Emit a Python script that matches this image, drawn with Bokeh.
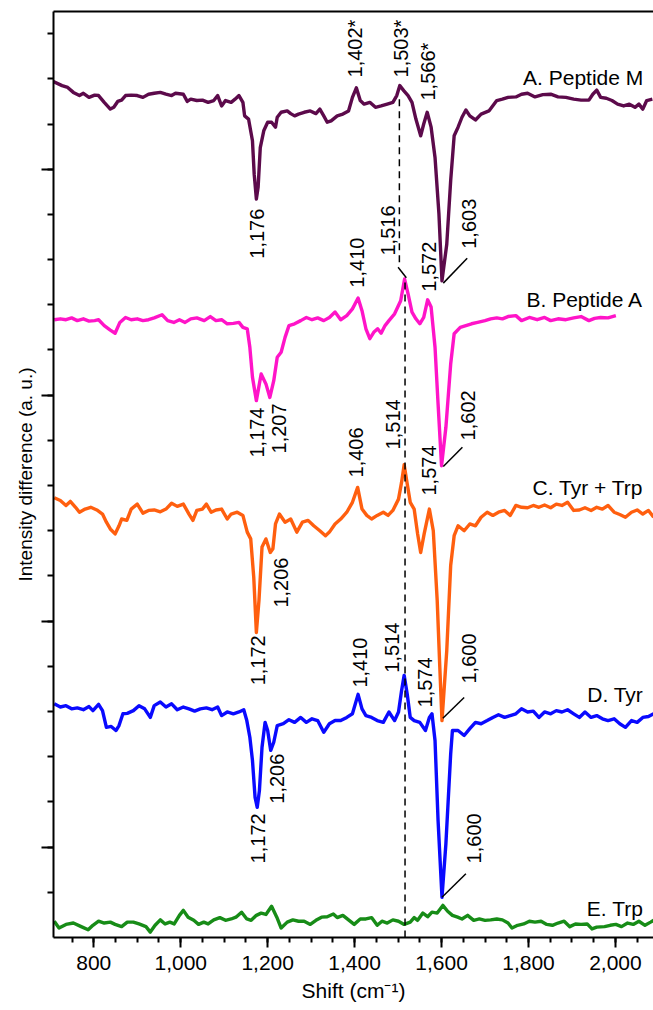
from math import pi
from bokeh.plotting import figure
from bokeh.models import Range1d, FixedTicker, LinearAxis, NumeralTickFormatter, ColumnDataSource
from bokeh.core.properties import value
from bokeh.embed import file_html
from bokeh.resources import INLINE

FONT = "Liberation Sans"

# ---------------- data (Raman shift cm-1, offset intensity a.u.) ----------------
a_pts = [(707,18.94),(727,18.85),(740,18.81),(753,18.70),(767,18.63),(776,18.68),(789,18.59),(802,18.64),
         (811,18.63),(824,18.48),(838,18.33),(846,18.37),(855,18.50),(864,18.53),(873,18.63),(886,18.64),
         (900,18.63),(913,18.59),(926,18.66),(939,18.68),(953,18.70),(966,18.66),(979,18.63),(988,18.68),
         (1006,18.66),(1015,18.50),(1023,18.55),(1037,18.52),(1050,18.53),(1063,18.48),(1076,18.52),(1085,18.63),
         (1094,18.40),(1103,18.52),(1116,18.48),(1125,18.55),(1134,18.63),(1143,18.48),(1147,18.18),(1156,18.11),
         (1165,17.63),(1169,16.89),(1174,16.34),(1178,16.60),(1183,17.48),(1191,17.85),(1200,18.04),(1209,18.04),
         (1218,17.93),(1222,18.15),(1231,18.26),(1245,18.29),(1253,18.23),(1262,18.18),(1271,18.22),(1284,18.26),
         (1298,18.29),(1311,18.23),(1320,18.33),(1329,18.18),(1337,18.04),(1346,18.07),(1360,18.18),(1373,18.22),
         (1386,18.29),(1395,18.59),(1404,18.80),(1413,18.52),(1422,18.44),(1435,18.48),(1448,18.37),(1461,18.40),
         (1475,18.44),(1488,18.48),(1497,18.63),(1504,18.85),(1513,18.74),(1523,18.63),(1532,18.48),(1541,18.11),
         (1552,17.74),(1559,18.00),(1567,18.26),(1576,17.93),(1585,17.26),(1594,16.01),(1601,14.53),(1612,15.34),
         (1621,16.75),(1629,17.74),(1638,17.93),(1647,18.15),(1656,18.31),(1665,18.18),(1678,18.09),(1691,18.22),
         (1709,18.29),(1727,18.52),(1740,18.55),(1753,18.59),(1771,18.60),(1784,18.66),(1798,18.68),(1815,18.60),
         (1833,18.65),(1851,18.66),(1868,18.60),(1886,18.59),(1904,18.55),(1921,18.53),(1939,18.53),(1948,18.66),
         (1957,18.75),(1966,18.59),(1979,18.57),(1992,18.52),(2005,18.44),(2019,18.40),(2032,18.44),(2045,18.37),
         (2054,18.44),(2063,18.33),(2072,18.52),(2085,18.55)]

b_pts = [(709,13.67),(723,13.69),(736,13.67),(749,13.71),(762,13.65),(776,13.69),(789,13.64),(802,13.65),
         (811,13.67),(824,13.54),(838,13.44),(849,13.37),(860,13.61),(873,13.72),(886,13.67),(900,13.69),
         (913,13.65),(926,13.67),(939,13.71),(957,13.78),(970,13.65),(984,13.61),(997,13.67),(1010,13.61),
         (1023,13.69),(1037,13.71),(1054,13.65),(1068,13.74),(1081,13.65),(1094,13.67),(1107,13.58),(1121,13.59),
         (1134,13.61),(1143,13.50),(1153,13.47),(1159,13.06),(1165,12.40),(1174,11.88),(1185,12.47),(1196,12.25),
         (1205,11.95),(1214,12.32),(1222,12.84),(1231,12.95),(1240,13.28),(1249,13.54),(1262,13.58),(1276,13.65),
         (1289,13.72),(1302,13.67),(1315,13.71),(1329,13.65),(1342,13.72),(1355,13.84),(1368,13.67),(1382,13.76),
         (1395,13.91),(1408,14.15),(1417,13.87),(1426,13.47),(1435,13.25),(1444,13.39),(1453,13.47),(1461,13.37),
         (1470,13.54),(1479,13.65),(1492,13.80),(1506,14.09),(1515,14.57),(1523,14.24),(1532,13.84),(1541,13.69),
         (1550,13.58),(1559,13.72),(1568,14.11),(1576,13.95),(1585,13.06),(1592,11.81),(1600,10.44),(1610,11.29),
         (1621,12.69),(1629,13.36),(1643,13.50),(1656,13.54),(1669,13.58),(1683,13.61),(1700,13.65),(1713,13.69),
         (1727,13.71),(1740,13.69),(1753,13.74),(1771,13.76),(1784,13.65),(1802,13.72),(1820,13.67),(1837,13.72),
         (1851,13.65),(1868,13.69),(1886,13.67),(1904,13.71),(1921,13.74),(1939,13.65),(1952,13.70),(1966,13.72),
         (1983,13.71),(2001,13.76)]

c_pts = [(709,9.73),(723,9.67),(736,9.56),(746,9.65),(758,9.52),(767,9.41),(780,9.48),(793,9.52),
         (807,9.46),(820,9.37),(829,9.19),(838,9.04),(849,8.93),(858,9.11),(864,9.26),(876,9.23),
         (886,9.48),(900,9.59),(913,9.39),(926,9.45),(939,9.46),(953,9.42),(966,9.48),(979,9.61),
         (992,9.54),(1006,9.59),(1019,9.37),(1028,9.23),(1037,9.45),(1050,9.48),(1059,9.59),(1070,9.41),
         (1081,9.46),(1094,9.48),(1107,9.26),(1116,9.37),(1130,9.41),(1143,9.34),(1153,8.97),(1161,8.82),
         (1168,7.97),(1174,6.75),(1180,7.46),(1187,8.64),(1196,8.82),(1206,8.52),(1212,8.60),(1218,9.15),
         (1227,9.37),(1240,9.19),(1253,9.26),(1267,8.97),(1280,9.19),(1293,9.23),(1306,9.11),(1320,9.00),
         (1333,8.89),(1342,8.97),(1355,9.15),(1368,9.26),(1382,9.41),(1395,9.63),(1407,9.96),(1417,9.48),
         (1428,9.34),(1439,9.26),(1452,9.34),(1466,9.41),(1477,9.34),(1488,9.45),(1501,9.70),(1508,10.07),
         (1514,10.46),(1521,10.04),(1528,9.63),(1537,9.48),(1545,8.93),(1552,8.52),(1560,8.93),(1572,9.48),
         (1581,9.00),(1590,7.46),(1596,5.98),(1601,4.80),(1612,6.35),(1621,8.23),(1629,8.89),(1638,9.11),
         (1652,9.00),(1665,9.15),(1678,9.11),(1691,9.30),(1705,9.41),(1718,9.34),(1731,9.41),(1745,9.45),
         (1758,9.34),(1771,9.56),(1784,9.52),(1798,9.51),(1811,9.56),(1824,9.52),(1837,9.57),(1851,9.51),
         (1864,9.59),(1877,9.56),(1890,9.63),(1904,9.45),(1917,9.46),(1930,9.51),(1944,9.45),(1957,9.52),
         (1970,9.48),(1983,9.56),(1997,9.41),(2010,9.36),(2023,9.30),(2037,9.41),(2050,9.46),(2063,9.37),
         (2076,9.45),(2088,9.30)]

d_pts = [(709,5.17),(723,5.10),(736,5.13),(749,5.06),(762,5.08),(776,5.04),(789,5.11),(798,5.02),
         (811,5.16),(820,5.02),(829,4.65),(840,4.67),(851,4.58),(858,4.69),(867,4.95),(877,4.96),
         (891,5.02),(904,5.13),(917,5.06),(930,4.87),(939,5.13),(953,5.21),(966,5.10),(979,5.17),
         (992,5.04),(1006,5.10),(1019,5.06),(1032,5.01),(1045,5.06),(1059,5.08),(1072,5.04),(1085,5.10),
         (1094,4.91),(1107,4.99),(1121,4.95),(1134,4.99),(1145,5.04),(1152,4.80),(1159,4.43),(1165,3.92),
         (1171,3.10),(1176,2.88),(1181,3.25),(1187,4.21),(1194,4.76),(1200,4.58),(1207,4.14),(1214,4.32),
         (1222,4.69),(1236,4.73),(1249,4.82),(1262,4.76),(1276,4.87),(1289,4.76),(1302,4.84),(1315,4.80),
         (1329,4.54),(1342,4.73),(1355,4.80),(1368,4.80),(1382,4.87),(1395,4.95),(1408,5.38),(1417,5.06),
         (1426,4.91),(1439,4.87),(1452,4.80),(1466,4.76),(1479,4.99),(1492,4.80),(1501,4.99),(1508,5.46),
         (1514,5.80),(1521,5.39),(1528,4.87),(1537,4.80),(1550,4.76),(1563,4.58),(1572,4.87),(1578,4.95),
         (1585,4.36),(1592,2.59),(1601,0.89),(1610,2.07),(1621,4.06),(1625,4.58),(1638,4.58),(1652,4.47),
         (1665,4.62),(1678,4.76),(1691,4.73),(1705,4.80),(1718,4.87),(1731,4.93),(1745,4.87),(1758,4.91),
         (1771,4.95),(1784,5.06),(1798,4.99),(1811,5.01),(1824,4.87),(1837,4.99),(1851,4.95),(1864,5.02),
         (1877,4.99),(1890,5.04),(1904,4.95),(1917,4.87),(1930,4.99),(1944,4.87),(1957,4.91),(1970,4.84),
         (1983,4.80),(1997,4.84),(2010,4.73),(2023,4.65),(2037,4.80),(2050,4.76),(2063,4.87),(2076,4.89),
         (2088,4.95)]

e_pts = [(709,0.36),(720,0.21),(736,0.29),(753,0.32),(771,0.24),(787,0.17),(798,0.27),(811,0.36),
         (824,0.32),(838,0.34),(849,0.29),(864,0.24),(877,0.34),(891,0.34),(904,0.30),(920,0.24),
         (930,0.12),(941,0.27),(953,0.39),(964,0.30),(975,0.34),(985,0.30),(997,0.49),(1006,0.60),
         (1017,0.45),(1030,0.38),(1041,0.29),(1053,0.34),(1063,0.30),(1076,0.39),(1090,0.44),(1103,0.38),
         (1116,0.41),(1127,0.45),(1140,0.56),(1152,0.41),(1162,0.38),(1174,0.49),(1185,0.54),(1196,0.51),
         (1209,0.69),(1221,0.45),(1231,0.21),(1245,0.34),(1258,0.39),(1271,0.36),(1284,0.36),(1298,0.29),
         (1311,0.38),(1324,0.45),(1337,0.46),(1351,0.52),(1360,0.44),(1373,0.49),(1386,0.39),(1399,0.29),
         (1413,0.41),(1426,0.41),(1439,0.44),(1452,0.27),(1463,0.36),(1475,0.32),(1488,0.39),(1501,0.36),
         (1514,0.29),(1528,0.34),(1537,0.44),(1545,0.38),(1557,0.54),(1568,0.46),(1578,0.56),(1590,0.54),
         (1603,0.71),(1614,0.58),(1625,0.49),(1637,0.45),(1647,0.41),(1660,0.49),(1674,0.38),(1687,0.41),
         (1700,0.38),(1713,0.39),(1727,0.41),(1740,0.39),(1753,0.32),(1762,0.21),(1775,0.27),(1789,0.30),
         (1802,0.36),(1815,0.34),(1829,0.36),(1842,0.29),(1855,0.27),(1868,0.32),(1882,0.36),(1895,0.24),
         (1908,0.30),(1921,0.29),(1935,0.30),(1946,0.19),(1957,0.23),(1975,0.24),(1988,0.27),(2001,0.29),
         (2014,0.24),(2028,0.32),(2041,0.29),(2054,0.36),(2068,0.27),(2081,0.34),(2088,0.38)]

series_names = ["A. Peptide M", "B. Peptide A", "C. Tyr + Trp", "D. Tyr", "E. Trp"]
series_colors = ["#5c0a4b", "#ff14c8", "#ff5f0f", "#0a0aff", "#178c17"]
series_pts = [a_pts, b_pts, c_pts, d_pts, e_pts]
name_y = [19.03, 14.12, 9.96, 5.38, 0.64]
name_x = 2064

# peak annotations (text, shift position, start height)
peak_text = ["1,176", "1,402*", "1,503*", "1,566*", "1,603",
             "1,410", "1,516", "1,572", "1,174", "1,207", "1,602",
             "1,406", "1,514", "1,574", "1,172", "1,206", "1,600",
             "1,410", "1,514", "1,574", "1,172", "1,206", "1,600"]
peak_x = [1176, 1402, 1507, 1568, 1664,
          1406, 1476, 1570, 1176, 1225, 1660,
          1404, 1489, 1570, 1178, 1231, 1664,
          1412, 1487, 1563, 1178, 1222, 1674]
peak_y = [15.02, 19.03, 19.03, 18.52, 15.24,
          14.38, 15.09, 14.29, 10.62, 10.71, 11.00,
          10.18, 10.80, 9.78, 5.58, 7.30, 5.62,
          5.53, 5.86, 5.09, 1.64, 2.96, 1.64]

# leader lines from band minima/maxima to labels
lead_x0 = [1604, 1500, 1604, 1603, 1601]
lead_y0 = [14.48, 14.83, 10.42, 4.85, 0.89]
lead_x1 = [1659, 1519, 1648, 1652, 1656]
lead_y1 = [15.03, 14.60, 10.85, 5.31, 1.41]

# dashed guide line (1,503 -> 1,516)
guide_x = [1503, 1516]
guide_y0 = [18.55, 0.0]
guide_y1 = [14.87, 14.60]

x_major = [800, 1000, 1200, 1400, 1600, 1800, 2000]
x_minor = list(range(750, 2100, 50))
y_major = [2, 7, 12, 17]
y_minor = list(range(1, 21))

# ---------------- figure ----------------
p = figure(width=653, height=1010, x_range=Range1d(707.3, 2087.6), y_range=Range1d(0, 20.49),
           output_backend="svg", toolbar_location=None,
           min_border_left=53, min_border_right=0, min_border_top=11, min_border_bottom=73)
p.outline_line_color = None
p.grid.visible = False

for pts, col in zip(series_pts, series_colors):
    xs = [q[0] for q in pts]
    ys = [q[1] for q in pts]
    p.line(xs, ys, line_color=col, line_width=3.4, line_join="round")

p.segment(x0=guide_x, y0=guide_y0, x1=guide_x, y1=guide_y1, line_color="black",
          line_width=1.5, line_dash="7 5")
p.segment(x0=lead_x0, y0=lead_y0, x1=lead_x1, y1=lead_y1, line_color="black", line_width=1.5)

src = ColumnDataSource(dict(x=peak_x, y=peak_y, t=peak_text))
p.text(x="x", y="y", text="t", source=src, angle=pi / 2, text_align="left",
       text_baseline="middle", text_font=value(FONT), text_font_size="20px", text_color="black")

p.text(x=[name_x] * len(series_names), y=name_y, text=series_names, text_align="right",
       text_baseline="alphabetic", text_font=value(FONT), text_font_size="21px", text_color="black")

xa = p.xaxis[0]
xa.ticker = FixedTicker(ticks=x_major, minor_ticks=x_minor)
xa.formatter = NumeralTickFormatter(format="0,0")
xa.axis_label = "Shift (cm\u207b\u00b9)"
ya = p.yaxis[0]
ya.ticker = FixedTicker(ticks=y_major, minor_ticks=y_minor)
ya.axis_label = "Intensity difference (a. u.)"

for ax, mo, mi in ((xa, 10, 5), (ya, 12, 6)):
    ax.axis_line_width = 2
    ax.axis_line_color = "black"
    ax.major_tick_line_width = 2
    ax.minor_tick_line_width = 2
    ax.major_tick_line_color = "black"
    ax.minor_tick_line_color = "black"
    ax.major_tick_out = mo
    ax.major_tick_in = 0
    ax.minor_tick_out = mi
    ax.minor_tick_in = 0
    ax.major_label_text_font = FONT
    ax.major_label_text_font_size = "21px"
    ax.major_label_text_color = "black"
    ax.axis_label_text_font = FONT
    ax.axis_label_text_font_style = "normal"
    ax.axis_label_text_color = "black"
xa.axis_label_text_font_size = "21px"
ya.axis_label_text_font_size = "19px"
ya.major_label_overrides = {t: "" for t in y_major}
ya.major_label_text_color = None
xa.major_label_standoff = 8
xa.axis_label_standoff = 6
ya.major_label_standoff = 5
ya.axis_label_standoff = 6

top = LinearAxis(ticker=FixedTicker(ticks=[]), axis_line_width=2, axis_line_color="black",
                 major_tick_line_color=None, minor_tick_line_color=None,
                 major_label_text_color=None, major_label_standoff=0)
p.add_layout(top, "above")

open("out.html", "w").write(file_html(p, INLINE))
